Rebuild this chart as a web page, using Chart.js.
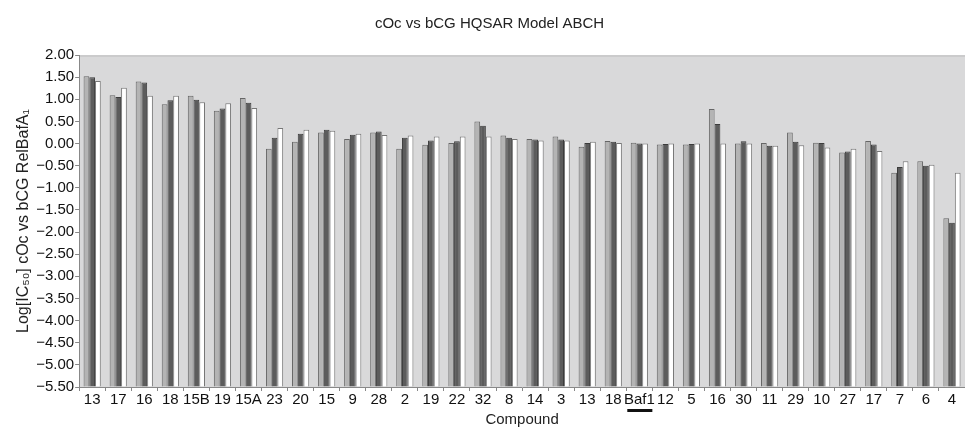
<!DOCTYPE html>
<html>
<head>
<meta charset="utf-8">
<script src="https://cdn.jsdelivr.net/npm/chart.js@4"></script>
<style>
  html, body { margin: 0; padding: 0; background: #fff; }
  #wrap { width: 965px; height: 429px; }
</style>
</head>
<body>
<div id="wrap"><canvas id="main-chart"></canvas></div>
<script>
const compounds = ['13', '17', '16', '18', '15B', '19', '15A', '23', '20', '15', '9', '28', '2', '19', '22', '32', '8', '14', '3', '13', '18', 'Baf1', '12', '5', '16', '30', '11', '29', '10', '27', '17', '7', '6', '4'];
const seriesA = [1.52, 1.09, 1.40, 0.89, 1.08, 0.74, 1.03, -0.12, 0.04, 0.25, 0.10, 0.25, -0.12, -0.03, 0.01, 0.50, 0.18, 0.10, 0.16, -0.07, 0.06, 0.02, -0.02, -0.02, 0.78, 0.00, 0.01, 0.25, 0.02, -0.20, 0.06, -0.66, -0.40, -1.69];
const seriesB = [1.50, 1.05, 1.38, 0.98, 0.99, 0.79, 0.92, 0.13, 0.22, 0.31, 0.20, 0.27, 0.13, 0.07, 0.05, 0.40, 0.13, 0.09, 0.09, 0.01, 0.04, 0.00, -0.01, -0.01, 0.44, 0.05, -0.05, 0.04, 0.01, -0.18, -0.02, -0.53, -0.50, -1.79];
const seriesC = [1.41, 1.26, 1.08, 1.08, 0.93, 0.91, 0.80, 0.35, 0.31, 0.29, 0.22, 0.19, 0.18, 0.16, 0.16, 0.16, 0.10, 0.07, 0.07, 0.04, 0.01, 0.00, 0.00, 0.00, 0.00, 0.00, -0.05, -0.04, -0.09, -0.12, -0.17, -0.40, -0.48, -0.66];
const yMin = -5.5;
const yMax = 2.0;

const fmt = v => v.toFixed(2).replace('-', '\u2212');

const plotBackground = {
    id: 'plotBackground',
    beforeDraw(chart) {
        const { ctx, chartArea } = chart;
        ctx.save();
        ctx.fillStyle = '#d9d9da';
        ctx.fillRect(chartArea.left, chartArea.top, chartArea.right - chartArea.left, chartArea.bottom - chartArea.top);
        ctx.fillStyle = '#cbcbcc';
        ctx.fillRect(chartArea.left, chartArea.top, chartArea.right - chartArea.left, 2);
        ctx.restore();
    }
};

// black underline below the reference compound label
const refUnderline = {
    id: 'refUnderline',
    afterDraw(chart) {
        const x = chart.scales.x;
        const i = compounds.indexOf('Baf1');
        const cx = x.getPixelForValue(i);
        const half = (x.width / compounds.length) * 0.5;
        const ctx = chart.ctx;
        ctx.save();
        ctx.fillStyle = '#111';
        ctx.fillRect(cx - half + 1, x.top + 22, half * 2 - 1, 3);
        ctx.restore();
    }
};

const mkSet = (data, fill, border) => ({
    data: data,
    backgroundColor: fill,
    borderColor: border,
    borderWidth: 1,
    base: yMin,
    barPercentage: 1.0,
    categoryPercentage: 0.66
});

Chart.defaults.font.family = '"Liberation Sans", Arial, sans-serif';
Chart.defaults.color = '#222';

new Chart(document.getElementById('main-chart').getContext('2d'), {
    type: 'bar',
    data: {
        labels: compounds,
        datasets: [
            mkSet(seriesA, '#b4b4b4', '#666'),
            mkSet(seriesB, '#5c5c5c', '#3c3c3c'),
            mkSet(seriesC, '#ffffff', '#777')
        ]
    },
    options: {
        responsive: true,
        maintainAspectRatio: false,
        animation: false,
        layout: { padding: { left: 14, right: 0, top: 0, bottom: 0 } },
        plugins: {
            legend: { display: false },
            tooltip: { enabled: false },
            title: {
                display: true,
                text: 'cOc vs bCG HQSAR Model ABCH',
                font: { size: 15, weight: 'normal' },
                color: '#222',
                padding: { top: 15, bottom: 22 }
            }
        },
        scales: {
            x: {
                grid: { display: true, drawOnChartArea: false, tickLength: 4, color: '#888', offset: true },
                border: { display: true, color: '#888' },
                ticks: { font: { size: 15 }, color: '#111', maxRotation: 0, autoSkip: false, padding: 0 },
                title: { display: true, text: 'Compound', font: { size: 15 }, color: '#222', padding: { top: 2, bottom: 0 } }
            },
            y: {
                min: yMin,
                max: yMax,
                grid: { display: true, drawOnChartArea: false, tickLength: 4, color: '#888' },
                border: { display: true, color: '#888' },
                ticks: { stepSize: 0.5, font: { size: 15 }, color: '#111', padding: 1, callback: v => fmt(v) },
                title: { display: true, text: 'Log[IC\u2085\u2080] cOc vs bCG RelBafA\u2081', font: { size: 16 }, color: '#222', padding: { top: 0, bottom: 2 } }
            }
        }
    },
    plugins: [plotBackground, refUnderline]
});
</script>
</body>
</html>
